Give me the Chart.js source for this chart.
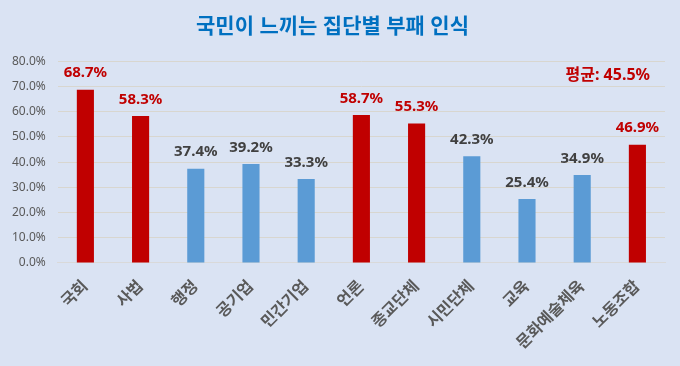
<!DOCTYPE html>
<html>
<head>
<meta charset="utf-8">
<script src="https://cdn.jsdelivr.net/npm/chart.js@4.4.1/dist/chart.umd.min.js"></script>
<style>
  html, body { margin: 0; padding: 0; background: #dae3f3; }
  #wrap { width: 680px; height: 366px; position: relative; }
</style>
</head>
<body>
<div id="wrap"><canvas id="corruptionChart" width="680" height="366"></canvas></div>
<script>
const categories = ['국회', '사법', '행정', '공기업', '민간기업', '언론', '종교단체', '시민단체', '교육', '문화예술체육', '노동조합'];
const perception = [68.7, 58.3, 37.4, 39.2, 33.3, 58.7, 55.3, 42.3, 25.4, 34.9, 46.9];
const average = 45.5;
const yTicks = [0, 10, 20, 30, 40, 50, 60, 70, 80];

const RED = '#c00000';
const BLUE = '#5b9bd5';
const FONT = "'Segoe UI', 'Noto Sans', 'Noto Sans CJK KR', sans-serif";

const barColors = perception.map(v => v > average ? RED : BLUE);

// value labels above each bar + the average note
const labelPlugin = {
    id: 'valueLabels',
    afterDatasetsDraw(chart) {
        const ctx = chart.ctx;
        const meta = chart.getDatasetMeta(0);
        ctx.save();
        ctx.font = "bold 15px " + FONT;
        ctx.textAlign = 'center';
        ctx.textBaseline = 'bottom';
        meta.data.forEach((bar, i) => {
            ctx.fillStyle = perception[i] > average ? RED : '#404040';
            ctx.fillText(perception[i].toFixed(1) + '%', bar.x, bar.y - 9);
        });
        ctx.font = "bold 16px " + FONT;
        ctx.textAlign = 'right';
        ctx.textBaseline = 'middle';
        ctx.fillStyle = RED;
        ctx.fillText('평균: ' + average.toFixed(1) + '%', chart.chartArea.right - 15, 75);
        ctx.restore();
    }
};

new Chart(document.getElementById('corruptionChart'), {
    type: 'bar',
    data: {
        labels: categories,
        datasets: [{
            data: perception,
            backgroundColor: barColors,
            borderWidth: 0,
            barPercentage: 0.31,
            categoryPercentage: 1.0
        }]
    },
    options: {
        responsive: false,
        animation: false,
        layout: { padding: { top: 0, right: 15, left: 0, bottom: 7 } },
        plugins: {
            legend: { display: false },
            tooltip: { enabled: false },
            title: {
                display: true,
                text: '국민이 느끼는 집단별 부패 인식',
                color: '#0070c0',
                font: { family: FONT, size: 21, weight: 'bold' },
                padding: { top: 14, bottom: 22 }
            }
        },
        scales: {
            x: {
                grid: { display: false },
                border: { color: '#d9d9d9' },
                ticks: {
                    color: '#595959',
                    font: { family: FONT, size: 16, weight: 'bold' },
                    minRotation: 45,
                    maxRotation: 45,
                    padding: 6
                }
            },
            y: {
                min: 0,
                max: 80,
                afterBuildTicks(axis) {
                    axis.ticks = yTicks.map(v => ({ value: v }));
                },
                grid: { color: '#d8d6cf', drawTicks: false },
                border: { display: false },
                ticks: {
                    color: '#595959',
                    font: { family: FONT, size: 12 },
                    padding: 12,
                    callback: v => v.toFixed(1) + '%'
                }
            }
        }
    },
    plugins: [labelPlugin]
});
</script>
</body>
</html>
